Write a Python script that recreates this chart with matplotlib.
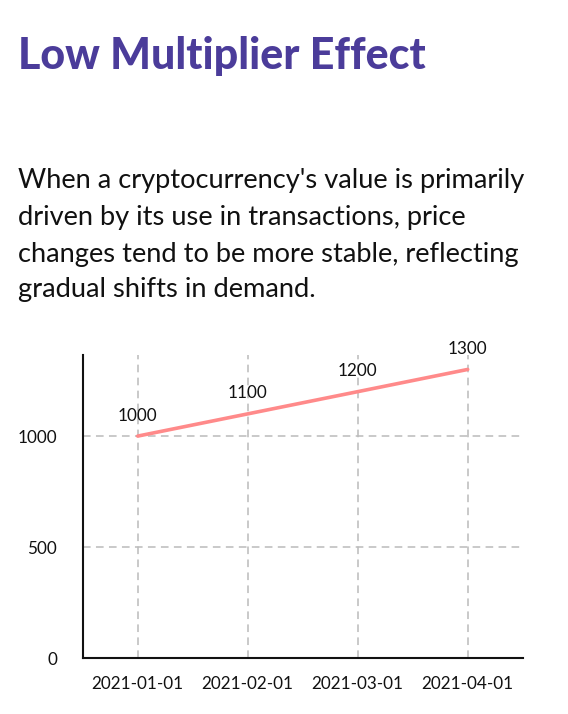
import matplotlib
matplotlib.use("Agg")
import matplotlib.pyplot as plt

title = "Low Multiplier Effect"
body_lines = [
    "When a cryptocurrency's value is primarily",
    "driven by its use in transactions, price",
    "changes tend to be more stable, reflecting",
    "gradual shifts in demand.",
]
dates = ["2021-01-01", "2021-02-01", "2021-03-01", "2021-04-01"]
prices = [1000, 1100, 1200, 1300]
yticks = [0, 500, 1000]

plt.rcParams['font.family'] = ['Lato', 'DejaVu Sans']

W, H = 568, 714
fig = plt.figure(figsize=(W / 100, H / 100), dpi=100)

fig.text(18 / W, 1 - 69.3 / H, title, fontsize=31, fontweight='black',
         color='#4B3C9A', va='baseline', ha='left')
baselines = [188.3, 225.0, 261.7, 297.3]
for line, b in zip(body_lines, baselines):
    fig.text(18 / W, 1 - b / H, line, fontsize=19.6, color='#111111',
             va='baseline', ha='left')

ax = fig.add_axes([82.7 / W, 1 - 658.3 / H, 440 / W, (658.3 - 355) / H])
x = list(range(len(dates)))
ax.plot(x, prices, color='#FF8A8A', lw=2.6, solid_capstyle='round', zorder=3)
for xi, p in zip(x, prices):
    ax.annotate(str(p), (xi, p), xytext=(0, 9), textcoords='offset points',
                ha='center', va='bottom', fontsize=12.3, color='#111111')

ax.set_xlim(-0.5, 3.5)
ax.set_ylim(0, 1365)
ax.set_xticks(x)
ax.set_xticklabels(dates)
ax.set_yticks(yticks)
ax.grid(True, color='#BBBBBB', lw=1.1, linestyle=(0, (5, 3.5)))
ax.set_axisbelow(True)
for s in ['top', 'right']:
    ax.spines[s].set_visible(False)
for s in ['left', 'bottom']:
    ax.spines[s].set_linewidth(1.5)
    ax.spines[s].set_color('#111111')
ax.tick_params(axis='both', length=0, labelsize=12.3, colors='#111111')
ax.tick_params(axis='x', pad=13)
ax.tick_params(axis='y', pad=18.5)

fig.savefig("out.png", dpi=100)
